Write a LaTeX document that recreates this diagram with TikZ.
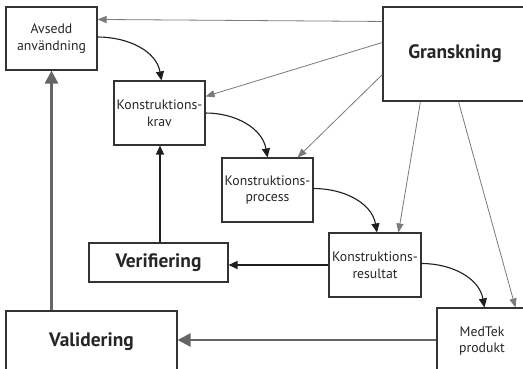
\documentclass[tikz,border=0pt]{standalone}
\usepackage{fontspec}
\setmainfont{PT Sans}
\usetikzlibrary{arrows.meta,calc}
\definecolor{boxc}{HTML}{333333}
\definecolor{grayl}{HTML}{7A7A7A}
\definecolor{grayt}{HTML}{656565}
\definecolor{blk}{HTML}{1E1E1E}
\tikzset{
  box/.style={draw=boxc,line width=1.1bp,fill=white,align=center,inner sep=1bp,font=\fontsize{13.8}{16.5}\selectfont,text=black!85},
  bigbox/.style={box,font=\bfseries\fontsize{19.5}{23}\selectfont},
  garr/.style={draw=grayl,line width=0.8bp,-{Triangle[length=9bp,width=7bp]}},
  barr/.style={draw=blk,line width=1.5bp,-{Triangle[length=9bp,width=8bp]}},
  tarr/.style={draw=grayt,line width=2.4bp,-{Triangle[length=13bp,width=13bp]}},
}
\begin{document}
\begin{tikzpicture}[x=1bp,y=-1bp]
\clip (0,0) rectangle (523,368);
\fill[white] (0,0) rectangle (523,368);
\node[box,minimum width=91bp,minimum height=63bp] (avsedd) at (51.5,38.5) {Avsedd\\användning};
\node[box,minimum width=91bp,minimum height=64bp] (krav) at (159.5,113) {Konstruktions-\\krav};
\node[bigbox,minimum width=144bp,minimum height=94bp] (gransk) at (455,54) {Granskning};
\node[box,minimum width=91bp,minimum height=64bp] (process) at (267.5,190) {Konstruktions-\\process};
\node[box,minimum width=92bp,minimum height=64bp] (result) at (375,265) {Konstruktions-\\resultat};
\node[bigbox,minimum width=139bp,minimum height=39bp] (verif) at (158.5,262.5) {Verifiering};
\node[bigbox,minimum width=171bp,minimum height=62bp] (valid) at (91.5,342) {Validering};
\node[box,minimum width=90bp,minimum height=66bp] (medtek) at (482,341) {MedTek\\produkt};
% Granskning arrows
\draw[garr] ($(gransk.north west)+(0,15)$) -- ($(avsedd.north east)+(0,13)$);
\draw[garr] ($(gransk.north west)+(0,36)$) -- ($(krav.north east)+(0,16)$);
\draw[garr] ($(gransk.north west)+(0,68)$) -- ($(process.north east)+(-16,0)$);
\draw[garr] ($(gransk.south west)+(38,0)$) -- ($(result.north west)+(70,0)$);
\draw[garr] ($(gransk.south west)+(76,0)$) -- ($(medtek.north west)+(79,0)$);
% flow curves
\draw[barr,line width=1.1bp] ($(avsedd.east)+(0,-1.5)$) to[out=0,in=100] ($(krav.north)+(2,0)$);
\draw[barr,line width=1.1bp] (krav.east) to[out=0,in=100] (process.north);
\draw[barr,line width=1.1bp] ($(process.east)+(0,-1.5)$) to[out=0,in=100] ($(result.north)+(2,0)$);
\draw[barr,line width=1.1bp] ($(result.east)+(0,-1.5)$) to[out=0,in=100] ($(medtek.north west)+(48,0)$);
% straight
\draw[barr] (result.west) -- (result.west -| verif.east);
\draw[barr] ($(krav.south |- verif.north)+(0.5,0)$) -- ($(krav.south)+(0.5,0)$);
\draw[tarr] ($(medtek.west)+(0,-1)$) -- ($(medtek.west -| valid.east)+(0,-1)$);
\draw[tarr] (avsedd.south |- valid.north) -- (avsedd.south);
\end{tikzpicture}
\end{document}
